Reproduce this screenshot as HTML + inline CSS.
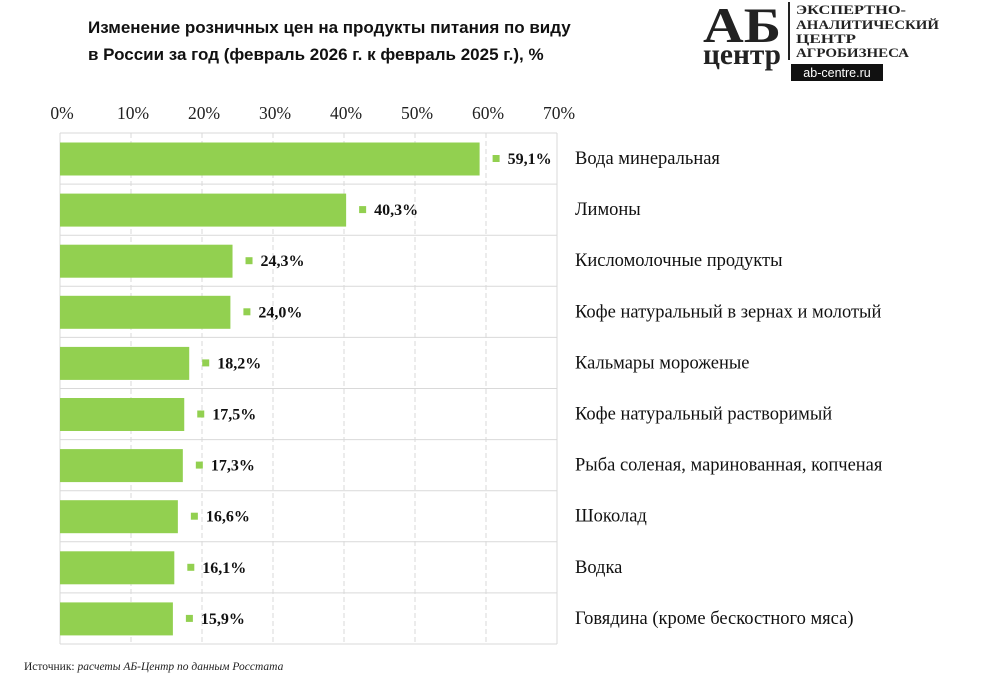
<!DOCTYPE html>
<html><head><meta charset="utf-8"><style>
body{margin:0;background:#fff;width:1000px;height:686px;overflow:hidden;position:relative;font-family:"Liberation Serif",serif}
.title{position:absolute;left:88px;top:14px;font:bold 17px/27px "Liberation Sans",sans-serif;color:#111}
.logo{position:absolute;left:703px;top:0;width:240px;height:82px}
</style></head><body>
<div class="title">Изменение розничных цен на продукты питания по виду<br>в России за год (февраль 2026 г. к февраль 2025 г.), %</div>
<svg class="logo" width="240" height="82">
<text x="0" y="42" font-family="Liberation Serif" font-weight="bold" font-size="50" fill="#222" textLength="78" lengthAdjust="spacingAndGlyphs">АБ</text>
<text x="0" y="64" font-family="Liberation Serif" font-weight="bold" font-size="30" fill="#222" textLength="78" lengthAdjust="spacingAndGlyphs">центр</text>
<rect x="85" y="2" width="2" height="58" fill="#222"/>
<g font-family="Liberation Serif" font-weight="bold" font-size="13" fill="#222">
<text x="93" y="14" textLength="110" lengthAdjust="spacingAndGlyphs">ЭКСПЕРТНО-</text>
<text x="93" y="29" textLength="143" lengthAdjust="spacingAndGlyphs">АНАЛИТИЧЕСКИЙ</text>
<text x="93" y="43" textLength="60" lengthAdjust="spacingAndGlyphs">ЦЕНТР</text>
<text x="93" y="57" textLength="113" lengthAdjust="spacingAndGlyphs">АГРОБИЗНЕСА</text>
</g>
<rect x="88" y="64" width="92" height="17" fill="#111"/>
<text x="134" y="77" text-anchor="middle" font-family="Liberation Sans" font-size="12.5" fill="#fff">ab-centre.ru</text>
</svg>
<svg id="chart" width="1000" height="686" style="position:absolute;left:0;top:0"></svg>
<div style="position:absolute;left:24px;top:661px;font-size:11.5px;color:#222">Источник: <i>расчеты АБ-Центр по данным Росстата</i></div>
<script>
const categories=["Вода минеральная","Лимоны","Кисломолочные продукты","Кофе натуральный в зернах и молотый","Кальмары мороженые","Кофе натуральный растворимый","Рыба соленая, маринованная, копченая","Шоколад","Водка","Говядина (кроме бескостного мяса)"];
const values=[59.1,40.3,24.3,24.0,18.2,17.5,17.3,16.6,16.1,15.9];
const ticks=[0,10,20,30,40,50,60,70];
const svg=document.getElementById('chart');const NS='http://www.w3.org/2000/svg';
const x0=60,x1=557,top0=133,rowH=51.1;
const xs=v=>x0+(v/70)*(x1-x0);
function mk(t,a,p){const e=document.createElementNS(NS,t);for(const k in a)e.setAttribute(k,a[k]);(p||svg).appendChild(e);return e;}
ticks.forEach((t,i)=>{
 if(i>0){const l=mk('line',{x1:xs(t),x2:xs(t),y1:top0,y2:top0+rowH*10,stroke:'#d9d9d9','stroke-dasharray':'5,3'});
 
 }
 const tx=mk('text',{x:xs(t)+2,y:119,'text-anchor':'middle','font-size':17.5,fill:'#222'});tx.textContent=t+'%';
 
 
});
for(let i=0;i<=10;i++){const l=mk('line',{x1:x0,x2:x1,y1:top0+rowH*i,y2:top0+rowH*i,stroke:'#d9d9d9'});
 
 }
mk('line',{x1:x0,x2:x0,y1:top0,y2:top0+rowH*10,stroke:'#d9d9d9'});
mk('line',{x1:x1,x2:x1,y1:top0,y2:top0+rowH*10,stroke:'#d9d9d9'});
categories.forEach((c,i)=>{
 const y=top0+rowH*i;const v=values[i];
 const b=mk('rect',{x:x0,y:y+9.5,width:xs(v)-x0,height:33,fill:'#92d050'});
 
 
 const m=mk('rect',{x:xs(v)+13,y:y+22,width:7,height:7,fill:'#92d050'});
 
 
 const t=mk('text',{x:xs(v)+28,y:y+31,'font-size':16,'font-weight':'bold',fill:'#111'});t.textContent=v.toFixed(1).replace('.',',')+'%';
 
 
 const ct=mk('text',{x:575,y:y+31,'font-size':18.5,fill:'#111'});ct.textContent=c;
 
 
});
</script>
</body></html>
